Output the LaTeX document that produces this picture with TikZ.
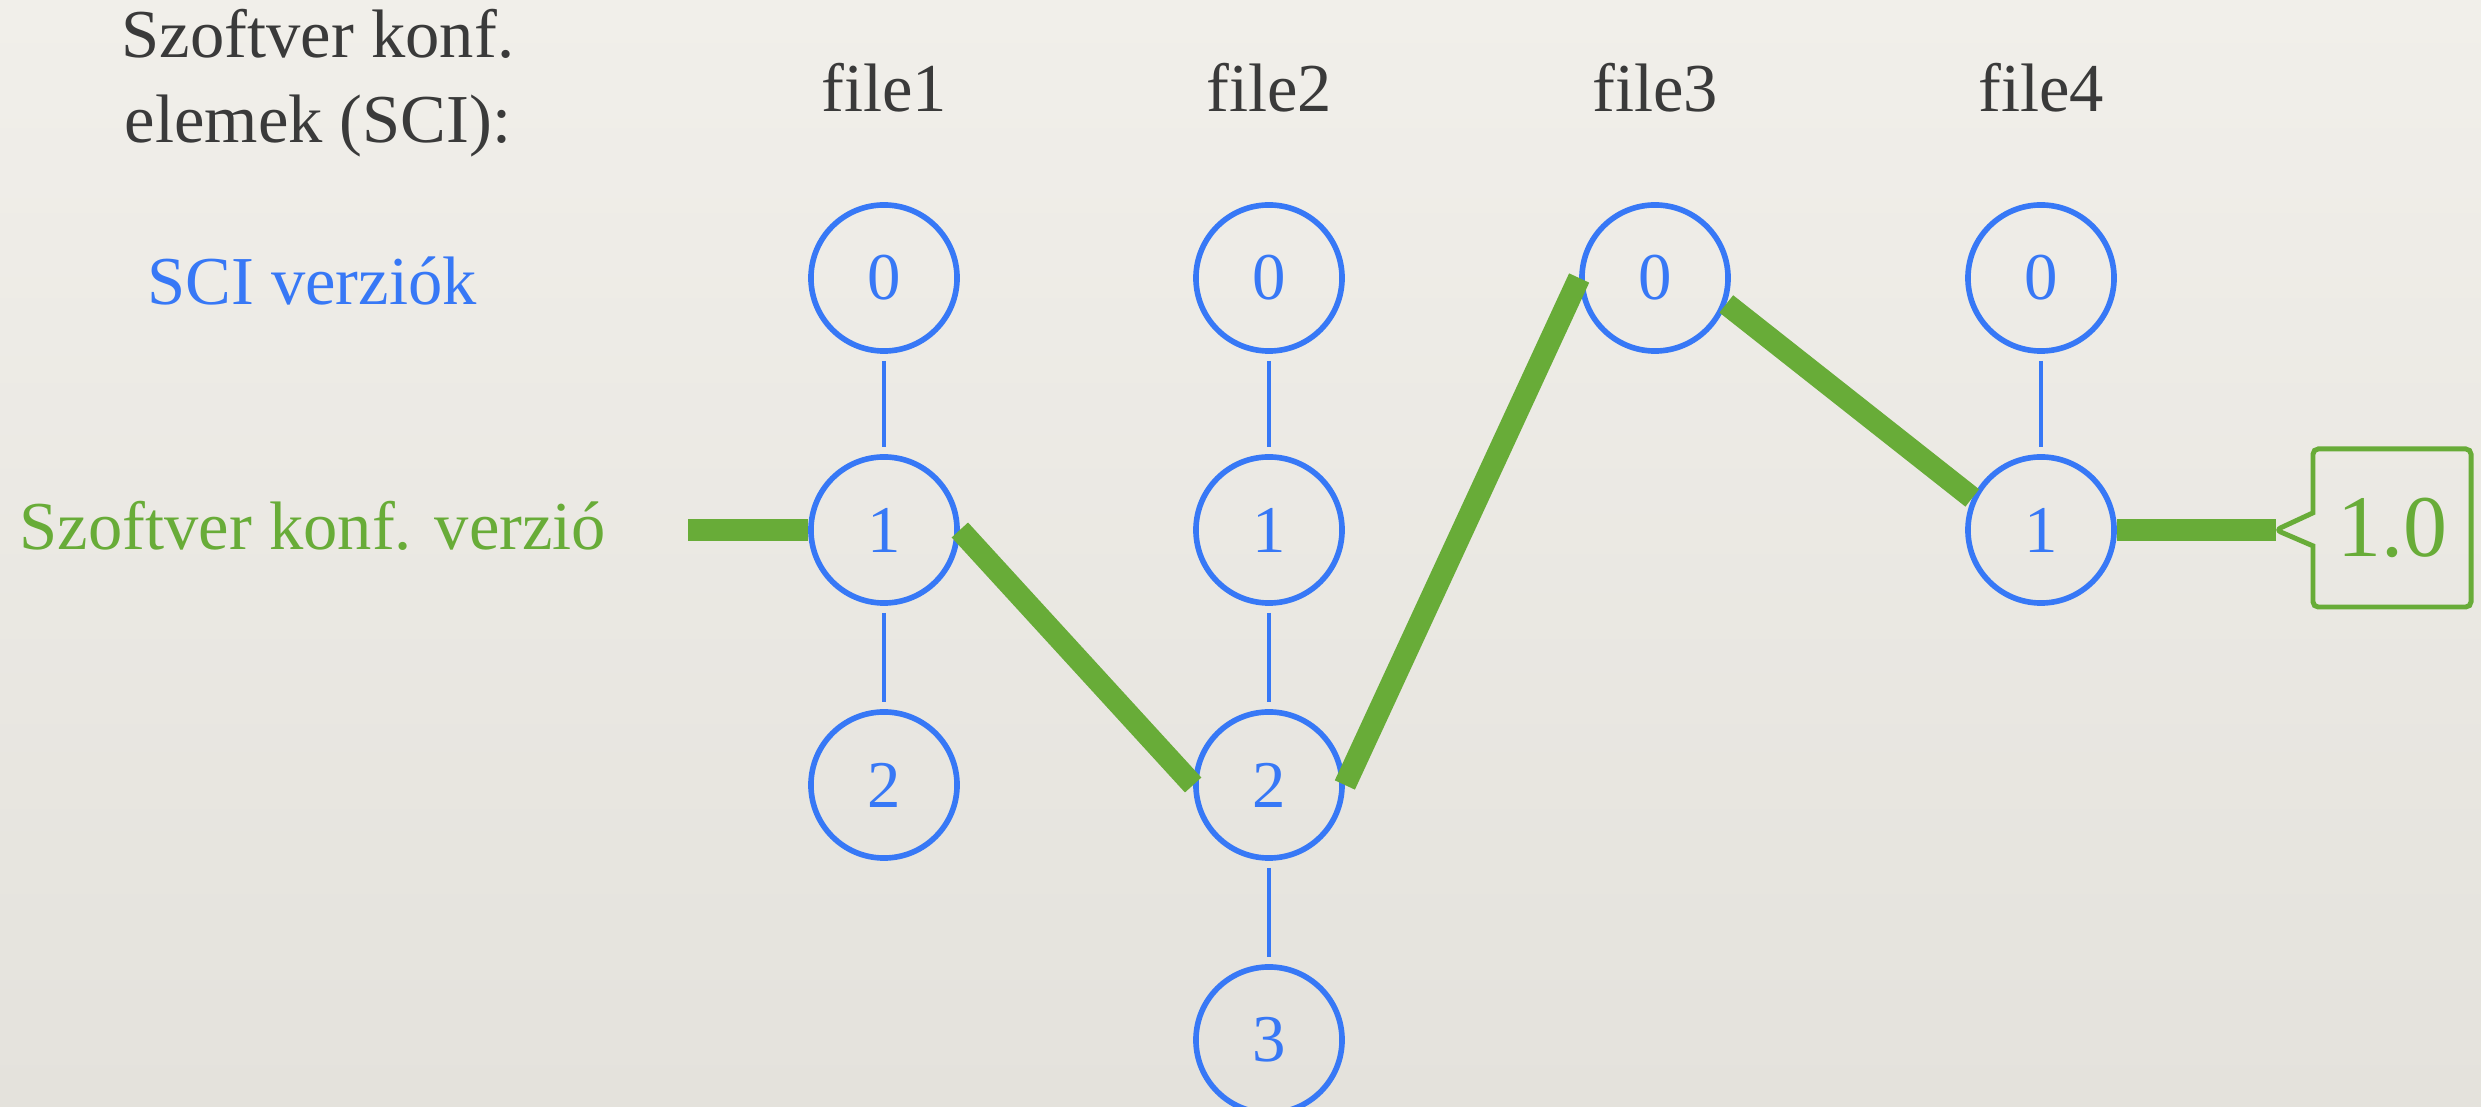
\documentclass[tikz,border=0pt]{standalone}
\usepackage{fontspec}
\setmainfont{Liberation Serif}
\usepackage{tikz}
\usetikzlibrary{shapes.callouts}
\definecolor{sciblue}{RGB}{55,120,246}
\definecolor{kgreen}{RGB}{104,172,56}
\definecolor{ink}{RGB}{58,58,58}
\tikzstyle{ver}=[circle, draw=sciblue, line width=1.6pt, minimum size=1.46cm, inner sep=0pt, text=sciblue, font=\fontsize{19}{22}\selectfont]
\tikzstyle{head}=[text=ink, align=center, font=\fontsize{19.5}{24}\selectfont]
\tikzstyle{link}=[draw=sciblue, line width=1.2pt, shorten <=2pt, shorten >=2pt]
\tikzstyle{konf}=[draw=kgreen, line width=6.3pt]

\begin{document}
\begin{tikzpicture}[x=0.01cm, y=-0.01cm]
        % paper background
        \useasboundingbox (0,0) rectangle (2481,1107);
        \shade[top color={rgb,255:red,241;green,239;blue,234}, bottom color={rgb,255:red,228;green,226;blue,220}] (0,0) rectangle (2481,1107);

        % column and row titles
        \node[head] (sci) at (318,83) {Szoftver konf.\\elemek (SCI):};
        \node[head] (h1) at (884,88) {file1};
        \node[head] (h2) at (1269,88) {file2};
        \node[head] (h3) at (1655,88) {file3};
        \node[head] (h4) at (2041,88) {file4};
        \node[head, text=sciblue] (lver) at (312,281) {SCI verziók};
        \node[head, text=kgreen] (lkonf) at (313,526) {Szoftver konf. verzió};

        % versions of each file
        \node[ver] (a0) at (884,278) {0};
        \node[ver] (a1) at (884,530) {1};
        \node[ver] (a2) at (884,785) {2};

        \node[ver] (b0) at (1269,278) {0};
        \node[ver] (b1) at (1269,530) {1};
        \node[ver] (b2) at (1269,785) {2};
        \node[ver] (b3) at (1269,1040) {3};

        \node[ver] (c0) at (1655,278) {0};

        \node[ver] (d0) at (2041,278) {0};
        \node[ver] (d1) at (2041,530) {1};

        \draw[link] (a0) -- (a1);
        \draw[link] (a1) -- (a2);
        \draw[link] (b0) -- (b1);
        \draw[link] (b1) -- (b2);
        \draw[link] (b2) -- (b3);
        \draw[link] (d0) -- (d1);

        % the configuration tag
        \coordinate (start) at (688,530);
        \coordinate (tip) at (2276,530);
        \node[rectangle callout, draw=kgreen, line width=1.4pt, minimum width=1.58cm, minimum height=1.58cm,
              callout absolute pointer={(tip)}, callout pointer width=0.33cm, rounded corners=1.5pt,
              text=kgreen, font=\fontsize{25}{28}\selectfont] (tag) at (2392,528) {1.0};

        % chosen versions
        \draw[konf] (start) -- (a1.west);
        \draw[konf] (a1.east) -- (b2.west);
        \draw[konf] (b2.east) -- (c0.west);
        \draw[konf] (c0.-20) -- (d1.155);
        \draw[konf] (d1.east) -- (tip);
\end{tikzpicture}
\end{document}
